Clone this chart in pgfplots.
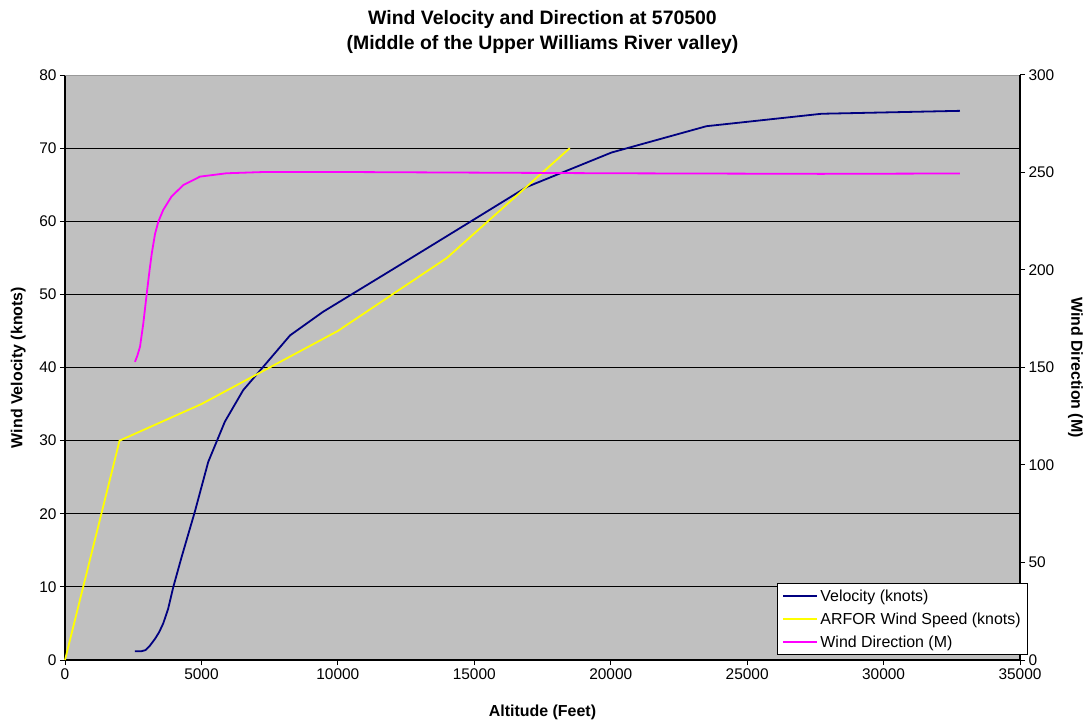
\documentclass[border=0pt]{standalone}
\usepackage{fontspec}
\setmainfont{Liberation Sans}
\usepackage{pgfplots}
\pgfplotsset{compat=1.18}

\definecolor{plotbg}{HTML}{C0C0C0}
\definecolor{velo}{HTML}{000080}
\definecolor{arfor}{HTML}{FFFF00}
\definecolor{wdir}{HTML}{FF00FF}

\begin{document}
\begin{tikzpicture}
\pgfplotsset{
  common/.style={
    width=955bp, height=585bp, scale only axis,
    xmin=0, xmax=35000,
    tick label style={font=\fontsize{15.5}{17}\selectfont},
    /pgf/number format/assume math mode=true,
    /pgf/number format/1000 sep={},
    scaled ticks=false,
    tick align=outside,
    major tick length=5bp,
    axis line style={black, line width=1.2bp},
    every tick/.style={black, line width=1bp},
    label style={font=\fontsize{16}{18}\selectfont\bfseries},
  }
}
% Wind speeds against altitude (left axis)
\begin{axis}[common, name=main,
  ymin=0, ymax=80, ytick={0,10,...,80},
  xtick={0,5000,...,35000},
  axis x line*=bottom, axis y line*=left,
  axis background/.style={fill=plotbg},
  ymajorgrids, grid style={black, line width=0.9bp},
  xlabel={Altitude (Feet)},
  xlabel style={at={(axis description cs:0.5,-0.089)}, anchor=center},
  ylabel={Wind Velocity (knots)},
  ylabel style={at={(axis description cs:-0.049,0.5)}, anchor=center, rotate=0},
  title={Wind Velocity and Direction at 570500\\(Middle of the Upper Williams River valley)},
  title style={at={(axis description cs:0.5,1.063)}, anchor=center, align=center,
    font=\fontsize{19.5}{25}\selectfont\bfseries},
  clip=false,
]
\draw[gray!80, line width=1bp] (rel axis cs:0,1) -- (rel axis cs:1,1);
\addplot[velo, line width=1.8bp] coordinates {
  (2565,1.2) (2800,1.2) (2950,1.35) (3100,1.9) (3300,2.9) (3450,3.8)
  (3600,5.0) (3780,7.0) (3970,10.0) (4275,14.1) (4760,20.3) (5250,27.1)
  (5860,32.6) (6530,36.9) (7220,39.9) (8250,44.4) (9450,47.6)
  (12000,53.4) (14840,59.9) (16930,64.7) (20030,69.4) (23510,73.0)
  (27730,74.7) (32800,75.1)
};
\addplot[arfor, line width=1.8bp] coordinates {
  (0,0) (2000,30) (5000,35) (10000,45) (14000,55) (18500,70)
};
\end{axis}
% Wind direction (right axis)
\begin{axis}[common,
  ymin=0, ymax=300, ytick={0,50,...,300},
  axis x line=none, axis y line*=right,
  ylabel={Wind Direction (M)},
  ylabel style={at={(axis description cs:1.058,0.5)}, anchor=center, rotate=180},
  legend style={at={(rel axis cs:1.0084,0.0085)}, anchor=south east,
    draw=black, fill=white, line width=0.8bp,
    font=\fontsize{16}{18}\selectfont, row sep=6bp,
    inner xsep=5bp, inner ysep=4bp},
  legend cell align=left,
  legend image code/.code={\draw[#1, line width=2bp] (0bp,0bp) -- (34bp,0bp);},
]
\addlegendimage{velo}
\addlegendimage{arfor}
\addlegendentry{Velocity (knots)}
\addlegendentry{ARFOR Wind Speed (knots)}
\addplot[wdir, line width=1.8bp] coordinates {
  (2565,152.9) (2650,156.0) (2750,160.7) (2870,172.6) (2990,187.2)
  (3100,200.0) (3180,208.5) (3300,218.5) (3420,224.8) (3600,230.8)
  (3900,237.6) (4340,243.6) (4950,247.9) (5920,249.6) (7390,250.3)
  (9500,250.3) (14000,250.0) (20000,249.6) (27700,249.3) (32800,249.5)
};
\addlegendentry{Wind Direction (M)}
\end{axis}
\pgfresetboundingbox
\path[use as bounding box] ([shift={(-65bp,-64bp)}]main.south west)
  rectangle ([shift={(1023bp,660bp)}]main.south west);
\end{tikzpicture}
\end{document}
